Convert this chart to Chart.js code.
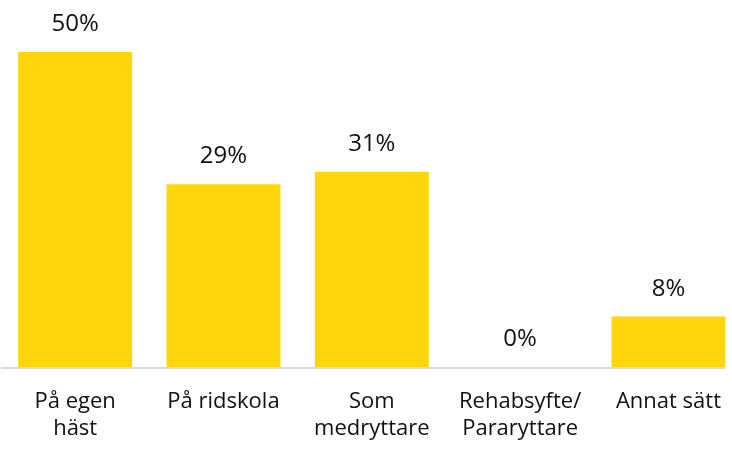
<!DOCTYPE html>
<html>
<head>
<meta charset="utf-8">
<script src="https://cdn.jsdelivr.net/npm/chart.js@4/dist/chart.umd.min.js"></script>
<style>
  html, body { margin: 0; padding: 0; background: #fff; overflow: hidden; }
</style>
</head>
<body>
<canvas id="myChart" width="743" height="450"></canvas>
<script>
const categories = [['På egen', 'häst'], 'På ridskola', ['Som', 'medryttare'], ['Rehabsyfte/', 'Pararyttare'], 'Annat sätt']
const values = [50, 29, 31, 0, 8]
const valueLabels = ['50%', '29%', '31%', '0%', '8%']

// percent labels above the bars
const topLabels = {
  id: 'topLabels',
  afterDatasetsDraw(chart) {
    const ctx = chart.ctx
    const meta = chart.getDatasetMeta(0)
    ctx.save()
    ctx.font = '24px "Open Sans"'
    ctx.fillStyle = '#111'
    ctx.textAlign = 'center'
    ctx.textBaseline = 'alphabetic'
    meta.data.forEach(function(bar, i) {
      ctx.fillText(valueLabels[i], bar.x, bar.y - 21)
    })
    ctx.restore()
  }
}

// grey base line, stops at the last bar
const baseLine = {
  id: 'baseLine',
  afterDatasetsDraw(chart) {
    const ctx = chart.ctx
    const meta = chart.getDatasetMeta(0)
    const last = meta.data[meta.data.length - 1]
    const y = chart.chartArea.bottom + 1
    ctx.save()
    ctx.strokeStyle = '#d9d9d9'
    ctx.lineWidth = 2
    ctx.beginPath()
    ctx.moveTo(chart.chartArea.left, y)
    ctx.lineTo(last.x + last.width / 2, y)
    ctx.stroke()
    ctx.restore()
  }
}

var ctx = document.getElementById('myChart').getContext('2d')
var chart = new Chart(ctx, {
  type: 'bar',
  data: {
    labels: categories,
    datasets: [{
      data: values,
      backgroundColor: '#FFD60D',
      borderWidth: 0,
      barPercentage: 0.768,
      categoryPercentage: 1
    }]
  },
  options: {
    responsive: false,
    animation: false,
    layout: { padding: { top: 52, left: 1, right: 0, bottom: 0 } },
    plugins: {
      legend: { display: false },
      tooltip: { enabled: false }
    },
    scales: {
      x: {
        grid: { display: false, drawTicks: false },
        border: { display: false },
        ticks: {
          padding: 22,
          color: '#111',
          maxRotation: 0,
          autoSkip: false,
          font: { family: 'Open Sans', size: 22, lineHeight: 1.2 }
        },
        afterFit: function(scale) { scale.height = 83 }
      },
      y: {
        display: false,
        min: 0,
        max: 50
      }
    }
  },
  plugins: [topLabels, baseLine]
})
</script>
</body>
</html>
